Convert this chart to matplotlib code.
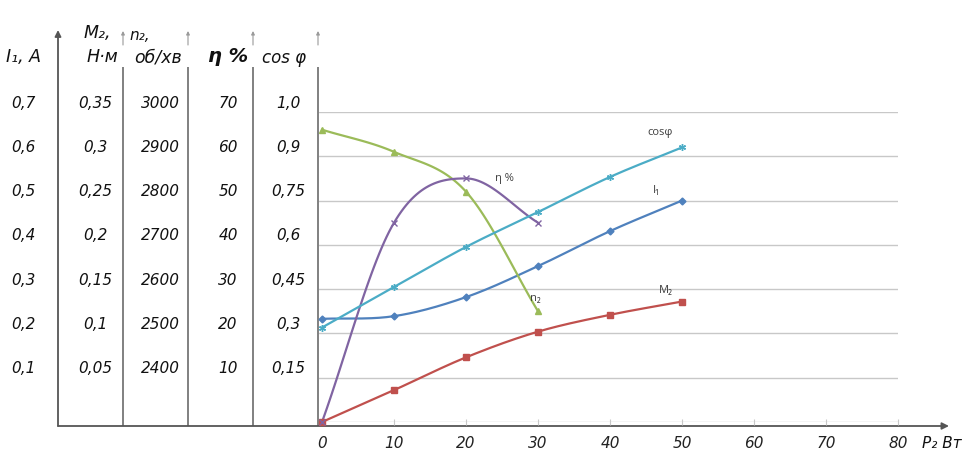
import numpy as np
import matplotlib
matplotlib.use("Agg")
import matplotlib.pyplot as plt
from matplotlib import transforms

# ---- measured characteristics of the motor ----
p2 = [0, 10, 20, 30, 40, 50]            # output power P2, W
p2_short = [0, 10, 20, 30]

i1 = [0.233, 0.239, 0.282, 0.352, 0.431, 0.50]     # stator current I1, A
m2 = [0.0, 0.036, 0.073, 0.102, 0.121, 0.136]      # shaft torque M2, N*m
n2 = [2960, 2910, 2820, 2550]                      # speed n2, rpm
eta = [0, 45, 55, 45]                              # efficiency, %
cosphi = [0.32, 0.457, 0.593, 0.711, 0.83, 0.93]   # power factor

# ---- scale labels ----
x_ticks = [0, 10, 20, 30, 40, 50, 60, 70, 80]
i1_labels = ["0,7", "0,6", "0,5", "0,4", "0,3", "0,2", "0,1"]
m2_labels = ["0,35", "0,3", "0,25", "0,2", "0,15", "0,1", "0,05"]
n2_labels = ["3000", "2900", "2800", "2700", "2600", "2500", "2400"]
eta_labels = ["70", "60", "50", "40", "30", "20", "10"]
cos_labels = ["1,0", "0,9", "0,75", "0,6", "0,45", "0,3", "0,15"]

# value of one grid division on each scale
I1_STEP, M2_STEP, ETA_STEP, COS_STEP = 0.1, 0.05, 10.0, 0.15
N2_BASE, N2_STEP = 2300.0, 100.0


def to_grid(values, step, base=0.0):
    return (np.asarray(values, float) - base) / step


def smooth(x, y, n=30):
    """Catmull-Rom curve through the points (spreadsheet-style smoothed line)."""
    x = np.asarray(x, float)
    y = np.asarray(y, float)
    px = np.r_[2 * x[0] - x[1], x, 2 * x[-1] - x[-2]]
    py = np.r_[2 * y[0] - y[1], y, 2 * y[-1] - y[-2]]
    t = np.linspace(0, 1, n)[:, None]
    xs, ys = [], []
    for i in range(1, len(px) - 2):
        for arr, out in ((px, xs), (py, ys)):
            p0, p1, p2_, p3 = arr[i - 1], arr[i], arr[i + 1], arr[i + 2]
            seg = 0.5 * (2 * p1 + (-p0 + p2_) * t + (2 * p0 - 5 * p1 + 4 * p2_ - p3) * t ** 2
                         + (-p0 + 3 * p1 - 3 * p2_ + p3) * t ** 3)
            out.append(seg.ravel())
    return np.concatenate(xs), np.concatenate(ys)


W, H = 966, 452
fig = plt.figure(figsize=(W / 100, H / 100), dpi=100)
fig.patch.set_facecolor("white")

# background layer in pixel units for the scale table
bg = fig.add_axes([0, 0, 1, 1])
bg.set_xlim(0, W)
bg.set_ylim(H, 0)
bg.axis("off")

# chart area
left_px, right_px, top_px, bottom_px = 319, 898, 113, 423
ax = fig.add_axes([left_px / W, (H - bottom_px) / H,
                   (right_px - left_px) / W, (bottom_px - top_px) / H])
ax.patch.set_alpha(0)
ax.set_xlim(-0.42, 80)
ax.set_ylim(0, 7)
for s in ax.spines.values():
    s.set_visible(False)
ax.set_yticks(range(0, 8))
ax.tick_params(axis="y", length=0, labelleft=False)
ax.grid(axis="y", color="#c8c8c8", lw=1.0)
ax.set_axisbelow(True)
ax.set_xticks(x_ticks)
ax.set_xticklabels([str(v) for v in x_ticks], fontstyle="italic", fontsize=11,
                   color="#222222")
ax.tick_params(axis="x", direction="inout", length=5, color="#c8c8c8", pad=7)

frame_c = "#808080"

# scale columns
bg.annotate("", xy=(58, 31), xytext=(58, 427),
            arrowprops=dict(arrowstyle="-|>", color="#555555", lw=1.3,
                            mutation_scale=9, shrinkA=0, shrinkB=0))
for xc in (123, 188, 253, 318):
    bg.plot([xc, xc], [427, 68], color=frame_c, lw=1.4, solid_capstyle="butt")
    bg.annotate("", xy=(xc, 32), xytext=(xc, 46),
                arrowprops=dict(arrowstyle="-|>", color="#9a9a9a", lw=0.8,
                                mutation_scale=5, shrinkA=0, shrinkB=0))
# P2 axis
bg.annotate("", xy=(949, 427), xytext=(58, 427),
            arrowprops=dict(arrowstyle="-|>", color="#555555", lw=1.3,
                            mutation_scale=10, shrinkA=0, shrinkB=0))

hdr = dict(fontstyle="italic", color="#111111", ha="center", va="center")
bg.text(23, 57, "I\u2081, A", fontsize=12.5, **hdr)
bg.text(97, 33, "M\u2082,", fontsize=12.5, **hdr)
bg.text(102, 57, "Н·м", fontsize=12.5, **hdr)
bg.text(140, 35, "n\u2082,", fontsize=11, **hdr)
bg.text(158, 57, "об/хв", fontsize=12.5, **hdr)
bg.text(228, 57, "η %", fontsize=14, fontweight="bold", **hdr)
bg.text(284, 58, "cos φ", fontsize=12, **hdr)
bg.text(942, 444, "P\u2082 Вт", fontsize=11, **hdr)

# table scale labels tied to the chart grid
blend = transforms.blended_transform_factory(bg.transData, ax.transData)
label_lift = 10 / 44.3
for xc, labels in ((23, i1_labels), (95, m2_labels), (160, n2_labels),
                   (228, eta_labels), (288, cos_labels)):
    for k, lab in enumerate(labels):
        g = 7 - k
        bg.text(xc, g + label_lift, lab, transform=blend, fontsize=11,
                fontstyle="italic", ha="center", va="center", color="#111111")

# ---- curves ----
series = [
    (p2, to_grid(i1, I1_STEP), "#4F81BD", "D", 3.5),
    (p2, to_grid(m2, M2_STEP), "#C0504D", "s", 4.5),
    (p2_short, to_grid(n2, N2_STEP, N2_BASE), "#9BBB59", "^", 4.5),
    (p2_short, to_grid(eta, ETA_STEP), "#8064A2", "x", 5),
    (p2, to_grid(cosphi, COS_STEP), "#4BACC6", (6, 2, 0), 5),
]
for xs, gs, col, mk, ms in series:
    sx, sy = smooth(xs, gs)
    ax.plot(sx, sy, color=col, lw=1.6, clip_on=False, zorder=3)
    ax.plot(xs, gs, ls="none", marker=mk, ms=ms, color=col, mec=col,
            mew=1.0, clip_on=False, zorder=4)

lbl = dict(fontsize=8, color="#404040", ha="center", va="center",
           family=["Open Sans", "DejaVu Sans"])
ax.text(46.9, 6.55, "cosφ", **lbl)
ax.text(46.4, 5.26, "I\u2081", **lbl)
ax.text(47.8, 3.0, "M\u2082", **lbl)
ax.text(25.4, 5.53, "η %", **lbl)
ax.text(29.7, 2.82, "n\u2082", **lbl)

fig.savefig("out.png", dpi=100)
